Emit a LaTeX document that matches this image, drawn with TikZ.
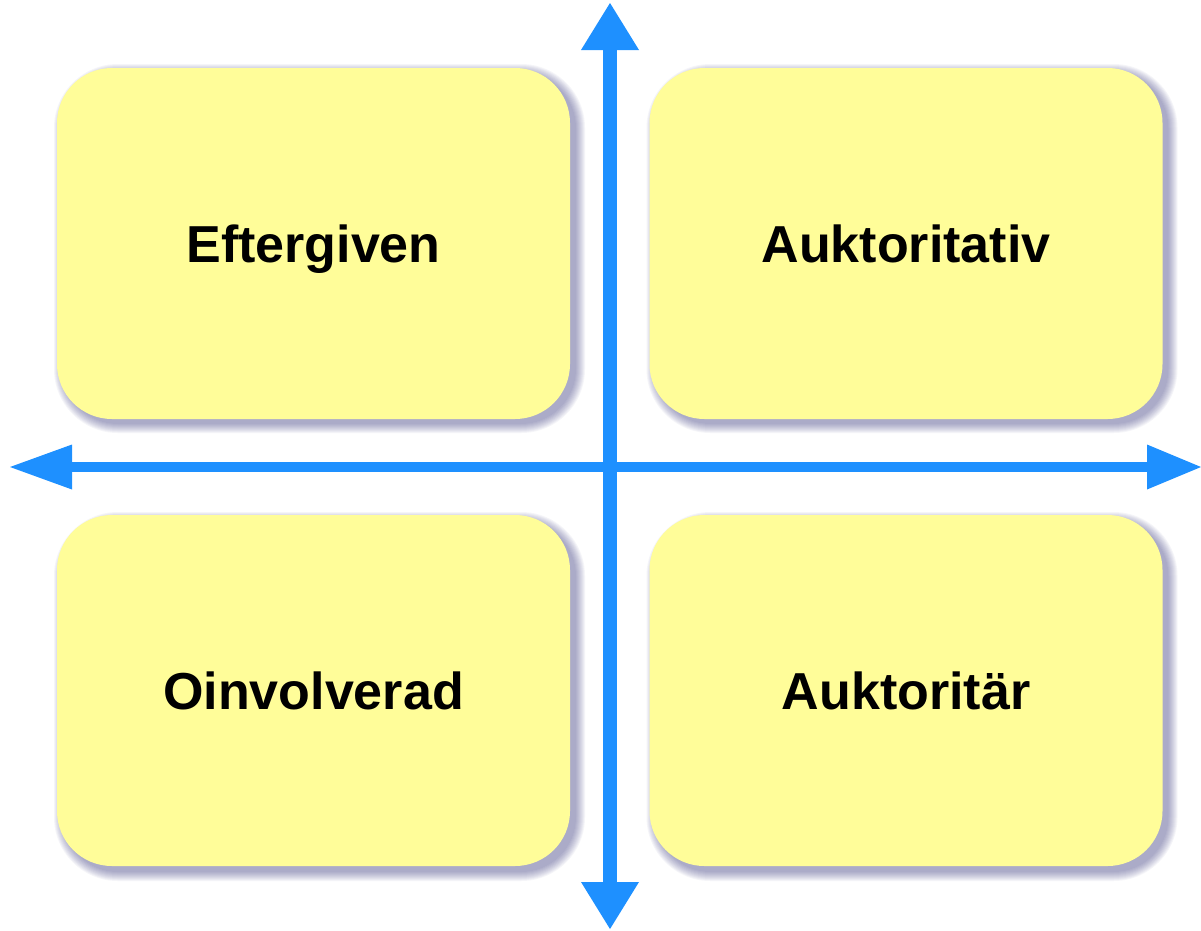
\documentclass[tikz,border=0pt]{standalone}
\usepackage{fontspec}
\setmainfont{Liberation Sans}
\definecolor{axisblue}{RGB}{30,144,255}
\definecolor{boxyellow}{RGB}{255,253,153}
\definecolor{shadowc}{RGB}{50,50,120}
\begin{document}
\begin{tikzpicture}[x=1pt,y=-1pt,
  quad/.style={rectangle, rounded corners=55pt, fill=boxyellow, draw=none,
    minimum width=513pt, minimum height=351pt, inner sep=0pt,
    text height=38pt, text depth=0pt,
    font=\fontsize{52}{60}\selectfont\bfseries},
  axisline/.style={draw=axisblue},
  tipfill/.style={fill=axisblue}]
\useasboundingbox (0,0) rectangle (1201,930);
% shadows
\foreach \cx/\cy in {313.5/242.5, 906/242.5, 313.5/690.5, 906/690.5}{
  \foreach \i in {0,...,9}{
    \fill[shadowc, opacity=0.05, rounded corners={55pt+\i pt}]
      (\cx-256.5+6-\i, \cy-175.5+6-\i) rectangle (\cx+256.5+6+\i, \cy+175.5+6+\i);
  }
}
\node[quad] (eft) at (313.5,243.5) {Eftergiven};
\node[quad] (aukv) at (906,243.5) {Auktoritativ};
\node[quad] (oin) at (313.5,690.5) {Oinvolverad};
\node[quad] (aukt) at (906,690.5) {Auktoritär};
% axes
\coordinate (top) at (610,3);
\coordinate (topb) at (610,50);
\coordinate (bot) at (610,929);
\coordinate (botb) at (610,882);
\coordinate (lft) at (10,467);
\coordinate (lftb) at (72,467);
\coordinate (rgt) at (1201,467);
\coordinate (rgtb) at (1147,467);
\draw[axisline, line width=14pt] (topb) -- (botb);
\draw[axisline, line width=10.5pt] (lftb) -- (rgtb);
\fill[tipfill] (top) -- ([xshift=29pt]topb) -- ([xshift=-29pt]topb) -- cycle;
\fill[tipfill] (bot) -- ([xshift=29pt]botb) -- ([xshift=-29pt]botb) -- cycle;
\fill[tipfill] (lft) -- ([yshift=22.5pt]lftb) -- ([yshift=-22.5pt]lftb) -- cycle;
\fill[tipfill] (rgt) -- ([yshift=22.5pt]rgtb) -- ([yshift=-22.5pt]rgtb) -- cycle;
\end{tikzpicture}
\end{document}
